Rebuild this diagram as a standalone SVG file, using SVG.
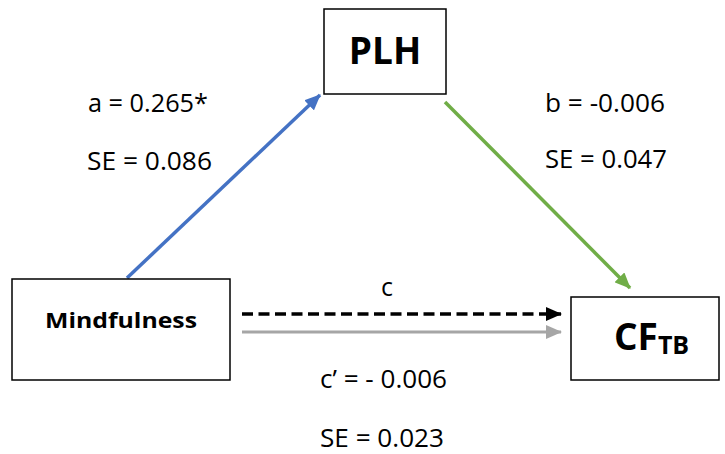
<svg xmlns="http://www.w3.org/2000/svg" width="725" height="454" viewBox="0 0 725 454">
<style>
.box{fill:#fff;stroke:#000;stroke-width:1.5}
.lbl{font-family:"Open Sans","Noto Sans",sans-serif;font-size:25px;fill:#000}
.node{font-family:"Open Sans","Noto Sans",sans-serif;font-weight:bold;fill:#000}
</style>
<defs>
<marker id="hb" markerUnits="userSpaceOnUse" markerWidth="16" markerHeight="14" refX="15" refY="7" orient="auto"><path d="M0,0 L16,7 L0,14 Z" fill="#4472c4"/></marker>
<marker id="hg" markerUnits="userSpaceOnUse" markerWidth="16" markerHeight="14" refX="15" refY="7" orient="auto"><path d="M0,0 L16,7 L0,14 Z" fill="#70ad47"/></marker>
<marker id="hk" markerUnits="userSpaceOnUse" markerWidth="16" markerHeight="14" refX="15" refY="7" orient="auto"><path d="M0,0 L16,7 L0,14 Z" fill="#000"/></marker>
<marker id="hy" markerUnits="userSpaceOnUse" markerWidth="16" markerHeight="14" refX="15" refY="7" orient="auto"><path d="M0,0 L16,7 L0,14 Z" fill="#a6a6a6"/></marker>
</defs>
<rect width="725" height="454" fill="#fff"/>
<g id="connectors">
<line x1="127" y1="278" x2="320" y2="95" stroke="#4472c4" stroke-width="3.5" marker-end="url(#hb)"/>
<line x1="445" y1="102" x2="630" y2="288" stroke="#70ad47" stroke-width="3.5" marker-end="url(#hg)"/>
<line x1="242" y1="314" x2="561" y2="314" stroke="#000" stroke-width="3.5" stroke-dasharray="11,5.5" marker-end="url(#hk)"/>
<line x1="242" y1="332" x2="561" y2="332" stroke="#a6a6a6" stroke-width="3" marker-end="url(#hy)"/>
</g>
<g id="labels">
<text class="lbl" x="88" y="112" textLength="120" lengthAdjust="spacingAndGlyphs">a = 0.265*</text>
<text class="lbl" x="87" y="170" textLength="125" lengthAdjust="spacingAndGlyphs">SE = 0.086</text>
<text class="lbl" x="545" y="112" textLength="120" lengthAdjust="spacingAndGlyphs">b = -0.006</text>
<text class="lbl" x="545" y="168" textLength="122" lengthAdjust="spacingAndGlyphs">SE = 0.047</text>
<text class="lbl" x="381" y="296" font-size="27">c</text>
<text class="lbl" x="320" y="388" textLength="127" lengthAdjust="spacingAndGlyphs">c’ = - 0.006</text>
<text class="lbl" x="320" y="447" textLength="124" lengthAdjust="spacingAndGlyphs">SE = 0.023</text>
</g>
<g id="plh">
<rect class="box" x="324" y="9" width="122" height="85"/>
<text class="node" x="385" y="64" font-size="37" text-anchor="middle">PLH</text>
</g>
<g id="mindfulness">
<rect class="box" x="12" y="279" width="218" height="101"/>
<text class="node" x="45" y="328" font-size="22" textLength="152" lengthAdjust="spacingAndGlyphs">Mindfulness</text>
</g>
<g id="cftb">
<rect class="box" x="571" y="297" width="148" height="83"/>
<text class="node" x="614" y="350" font-size="37">CF<tspan font-size="25" dy="4">TB</tspan></text>
</g>
</svg>
